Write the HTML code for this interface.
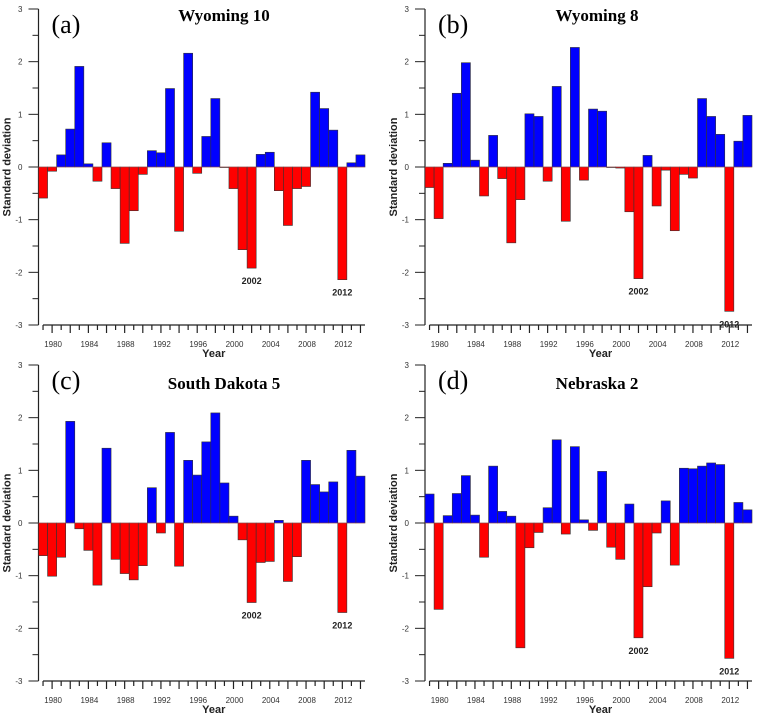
<!DOCTYPE html>
<html><head><meta charset="utf-8"><style>
body{margin:0;background:#fff;}
svg{display:block;}
.tk{font-family:"Liberation Sans",sans-serif;font-size:8px;fill:#333;}
.ax{font-family:"Liberation Sans",sans-serif;font-weight:bold;fill:#222;}
.ttl{font-family:"Liberation Serif",serif;font-weight:bold;font-size:17px;fill:#000;}
.lab{font-family:"Liberation Serif",serif;font-size:26px;fill:#000;}
.ann{font-family:"Liberation Sans",sans-serif;font-weight:bold;font-size:9px;fill:#222;}
</style></head><body>
<svg id="chart" width="760" height="720" viewBox="0 0 760 720" xmlns="http://www.w3.org/2000/svg"></svg>
<script>
const years = [1979,1980,1981,1982,1983,1984,1985,1986,1987,1988,1989,1990,1991,1992,1993,1994,1995,1996,1997,1998,1999,2000,2001,2002,2003,2004,2005,2006,2007,2008,2009,2010,2011,2012,2013,2014];
const yTicks = [-3,-2,-1,0,1,2,3];
const xTickLabels = [1980,1984,1988,1992,1996,2000,2004,2008,2012];
const annotatedYears = [2002,2012];
const wyoming10 = [-0.59,-0.08,0.23,0.72,1.91,0.06,-0.27,0.46,-0.41,-1.45,-0.83,-0.14,0.31,0.27,1.49,-1.22,2.16,-0.12,0.58,1.30,-0.01,-0.41,-1.57,-1.92,0.24,0.28,-0.45,-1.11,-0.41,-0.37,1.42,1.11,0.70,-2.14,0.08,0.23];
const wyoming8 = [-0.39,-0.98,0.07,1.40,1.98,0.13,-0.55,0.60,-0.22,-1.44,-0.62,1.01,0.96,-0.27,1.53,-1.03,2.27,-0.25,1.10,1.06,-0.01,-0.02,-0.85,-2.12,0.22,-0.74,-0.06,-1.21,-0.14,-0.21,1.30,0.96,0.62,-2.74,0.49,0.98];
const southDakota5 = [-0.62,-1.01,-0.65,1.93,-0.11,-0.52,-1.18,1.42,-0.69,-0.96,-1.08,-0.81,0.67,-0.19,1.72,-0.82,1.19,0.91,1.54,2.09,0.76,0.13,-0.32,-1.51,-0.75,-0.73,0.05,-1.11,-0.64,1.19,0.73,0.59,0.78,-1.70,1.38,0.89];
const nebraska2 = [0.55,-1.64,0.14,0.56,0.90,0.15,-0.65,1.08,0.22,0.13,-2.37,-0.47,-0.18,0.29,1.58,-0.21,1.45,0.06,-0.14,0.98,-0.46,-0.69,0.36,-2.18,-1.21,-0.19,0.42,-0.80,1.04,1.03,1.08,1.14,1.11,-2.57,0.39,0.25];

const NS = "http://www.w3.org/2000/svg";
const svg = document.getElementById('chart');
function mk(tag, attrs, parent){ const e=document.createElementNS(NS,tag); for(const k in attrs) e.setAttribute(k,attrs[k]); parent.appendChild(e); return e; }

function drawPanel(values, key, letter, title, x0, x1, yTop, yBot, titleX, titleY){
  const g = mk('g',{},svg);
  
  
  const ys = v => yTop + (3 - v) * (yBot - yTop) / 6;
  const bw = (x1 - x0) / years.length;
  const xs = i => x0 + i * bw;
  // y axis
  const yax = mk('line',{x1:x0,y1:yTop,x2:x0,y2:yBot,stroke:'#222','stroke-width':1.2},g);
  
  
  for(let v=-3; v<=3; v+=0.5){
    const major = Number.isInteger(v);
    mk('line',{x1:x0-(major?10:6),y1:ys(v),x2:x0,y2:ys(v),stroke:'#222','stroke-width':1},g);
  }
  yTicks.forEach(v=>{
    const t = mk('text',{x:x0-16,y:ys(v)+3,'text-anchor':'end',class:'tk'},g);
    t.textContent = v;
    
    
  });
  const yl = mk('text',{x:0,y:0,class:'ax','font-size':11,'text-anchor':'middle',transform:`translate(${x0-28},${ys(0)}) rotate(-90)`},g);
  yl.textContent = 'Standard deviation';
  
  
  // x axis
  const xax = mk('line',{x1:xs(0)+bw/2,y1:yBot,x2:x1,y2:yBot,stroke:'#222','stroke-width':1.2},g);
  
  
  years.forEach((yr,i)=>{
    const cx = xs(i)+bw/2;
    const long = xTickLabels.includes(yr) || (yr%2===0);
    mk('line',{x1:cx,y1:yBot,x2:cx,y2:yBot+(long?8:5),stroke:'#222','stroke-width':1.2},g);
  });
  xTickLabels.forEach(yr=>{
    const i = years.indexOf(yr);
    const t = mk('text',{x:xs(i)+bw/2+1,y:yBot+22,'text-anchor':'middle',class:'tk'},g);
    t.textContent = yr;
    
    
  });
  const xl = mk('text',{x:(x0+x1)/2+12,y:yBot+32,class:'ax','font-size':11,'text-anchor':'middle'},g);
  xl.textContent = 'Year';
  
  
  // bars
  values.forEach((v,i)=>{
    const y0 = ys(0), yv = ys(v);
    const r = mk('rect',{x:xs(i),y:Math.min(y0,yv),width:bw,height:Math.abs(yv-y0),fill:v>=0?'#0000ff':'#ff0000',stroke:'#333','stroke-width':0.6},g);
    
    
  });
  // zero line
  mk('line',{x1:x0,y1:ys(0),x2:x1,y2:ys(0),stroke:'#ff6060','stroke-width':0.6,opacity:0.6},g);
  // annotations
  annotatedYears.forEach(yr=>{
    const i = years.indexOf(yr);
    const t = mk('text',{x:xs(i)+bw/2,y:ys(values[i])+16,'text-anchor':'middle',class:'ann'},g);
    t.textContent = yr;
    
    
  });
  const lt = mk('text',{x:x0+13,y:yTop+24,class:'lab'},g);
  lt.textContent = '('+letter+')';
  
  
  const tt = mk('text',{x:titleX,y:titleY,'text-anchor':'middle',class:'ttl'},g);
  tt.textContent = title;
  
  
}
drawPanel(wyoming10,'wyoming-10','a','Wyoming 10',38.5,365,9,325,224,21);
drawPanel(wyoming8,'wyoming-8','b','Wyoming 8',425,752,9,325,597,21);
drawPanel(southDakota5,'south-dakota-5','c','South Dakota 5',38.5,365,365,681,224,389);
drawPanel(nebraska2,'nebraska-2','d','Nebraska 2',425,752,365,681,597,389);
</script>
</body></html>
